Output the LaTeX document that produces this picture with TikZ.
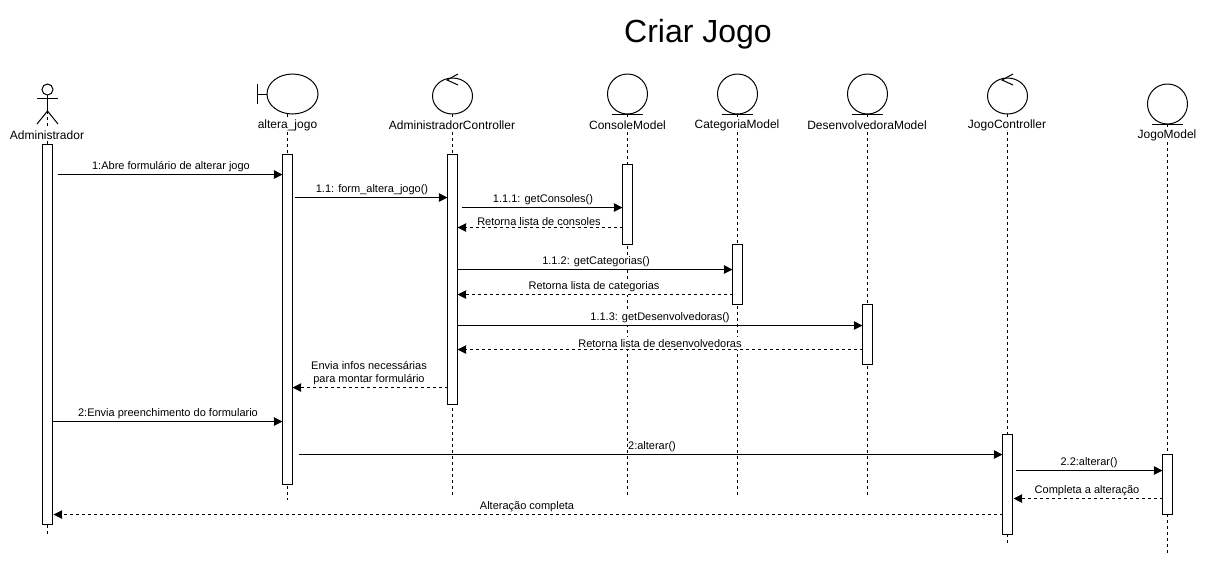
\documentclass[tikz,border=0pt]{standalone}
\usepackage{fontspec}
\setmainfont{Liberation Sans}
\usetikzlibrary{arrows.meta, shapes.geometric}

\begin{document}
\begin{tikzpicture}[x=0.75pt, y=-0.75pt, line width=0.75pt, >={Stealth[length=6.5pt, width=6.4pt, inset=0.3pt]},
        ico/.style={draw, circle, minimum size=30pt, inner sep=0pt, outer sep=0pt},
        ctl/.style={draw, ellipse, minimum width=30pt, minimum height=27pt, inner sep=0pt, outer sep=0pt},
        lbl/.style={fill=white, inner xsep=0pt, inner ysep=1pt, font=\fontsize{9}{10.5}\selectfont},
        bar/.style={draw, fill=white, anchor=north, minimum width=7.5pt, inner sep=0pt, outer sep=0pt},
        lifeline/.style={dash pattern=on 2.25pt off 2.25pt},
        msgtxt/.style={anchor=south, align=center, fill=white, inner xsep=0pt, inner ysep=1.7pt, outer sep=0pt, font=\fontsize{8.25}{9.75}\selectfont},
        msg/.style={->},
        ret/.style={->, dash pattern=on 2.25pt off 2.25pt}]
    \useasboundingbox (0, 0) rectangle (1206, 565);

    \node[font=\fontsize{24}{28}\selectfont] (title) at (698, 34) {Criar Jogo};

    % icons
    \node[draw, circle, minimum size=8.25pt, inner sep=0pt, outer sep=0pt] (head) at (47.5, 89.5) {};
    \node[draw, ellipse, minimum width=38.25pt, minimum height=30pt, inner sep=0pt, outer sep=0pt] (icoAlt) at (292.5, 94) {};
    \node[ctl] (icoAdm) at (452.5, 96) {};
    \node[ico] (icoCons) at (627.5, 94) {};
    \node[ico] (icoCat) at (737.5, 94) {};
    \node[ico] (icoDes) at (867.5, 94) {};
    \node[ctl] (icoJC) at (1007.5, 96) {};
    \node[ico] (icoJM) at (1167.5, 104) {};

    \coordinate (hip) at (47.5, 111);
    \draw (head.south) -- (hip);
    \draw (37, 98) -- (58, 98);
    \draw (37, 124) -- (hip) -- (58, 124);

    \draw (icoAlt.west) -- ++(-9.5, 0) ++(0, -10) -- ++(0, 20);
    \foreach \c in {icoAdm, icoJC}
        \draw (\c.north) ++(5.5, -4) -- ++(-11, 6) -- ++(11, 5);
    \foreach \e in {icoCons, icoCat, icoDes, icoJM}
        \draw (\e.south) ++(-15.5, 0) -- ++(31, 0);

    % lifelines and bars
    \foreach \name/\x/\top/\bot/\a/\b in {Adm/47.5/111/535/144.5/524.5, Alt/287.5/114/500/154.5/484.5,
            Ctl/452.5/114/495/154.5/404.5, Cons/627.5/114/495/164.5/244.5, Cat/737.5/114/495/244.5/304.5,
            Des/867.5/114/495/304.5/364.5, JC/1007.5/114/545/434.5/534.5, JM/1167.5/124/553/454.5/514.5} {
        \coordinate (top\name) at (\x, \top);
        \coordinate (end\name) at (\x, \bot);
        \draw[lifeline] (top\name) -- (end\name);
        \node[bar, minimum height={(\b-\a)*0.75pt}] (bar\name) at (\x, \a) {};
    }

    % names
    \foreach \name/\x/\y/\txt in {Adm/47/135/Administrador, Alt/287.5/125/altera\_jogo, Ctl/452/125/AdministradorController,
            Cons/627.5/125/ConsoleModel, Cat/737/125/CategoriaModel, Des/867/125/DesenvolvedoraModel,
            JC/1007/125/JogoController, JM/1167/135/JogoModel}
        \node[lbl] (name\name) at (\x, \y) {\txt};

    % messages
    \node[msgtxt] (m1) at (171, 174.5) {1:Abre formulário de alterar jogo};
    \node[msgtxt] (m2) at (372, 197.5) {1.1: form\_altera\_jogo()};
    \node[msgtxt] (m3) at (543, 207.5) {1.1.1: getConsoles()};
    \node[msgtxt] (m4) at (539, 227.5) {Retorna lista de consoles};
    \node[msgtxt] (m5) at (596, 269.5) {1.1.2: getCategorias()};
    \node[msgtxt] (m6) at (594, 294.5) {Retorna lista de categorias};
    \node[msgtxt] (m7) at (660, 325.5) {1.1.3: getDesenvolvedoras()};
    \node[msgtxt] (m8) at (660, 349.5) {Retorna lista de desenvolvedoras};
    \node[msgtxt] (m9) at (369, 387.5) {Envia infos necessárias\\para montar formulário};
    \node[msgtxt] (m10) at (168, 421.5) {2:Envia preenchimento do formulario};
    \node[msgtxt] (m11) at (652, 454.5) {2:alterar()};
    \node[msgtxt] (m12) at (1089, 470.5) {2.2:alterar()};
    \node[msgtxt] (m13) at (1087, 498.5) {Completa a alteração};
    \node[msgtxt] (m14) at (527, 514.5) {Alteração completa};

    \draw[msg] ([xshift=3.75pt]barAdm.east |- m1.south) -- (barAlt.west |- m1.south);
    \draw[msg] ([xshift=1.5pt]barAlt.east |- m2.south) -- (barCtl.west |- m2.south);
    \draw[msg] ([xshift=3pt]barCtl.east |- m3.south) -- (barCons.west |- m3.south);
    \draw[ret] (barCons.west |- m4.south) -- (barCtl.east |- m4.south);
    \draw[msg] (barCtl.east |- m5.south) -- (barCat.west |- m5.south);
    \draw[ret] (barCat.west |- m6.south) -- (barCtl.east |- m6.south);
    \draw[msg] (barCtl.east |- m7.south) -- (barDes.west |- m7.south);
    \draw[ret] (barDes.west |- m8.south) -- (barCtl.east |- m8.south);
    \draw[ret] (barCtl.west |- m9.south) -- (barAlt.east |- m9.south);
    \draw[msg] (barAdm.east |- m10.south) -- (barAlt.west |- m10.south);
    \draw[msg] ([xshift=4.5pt]barAlt.east |- m11.south) -- (barJC.west |- m11.south);
    \draw[msg] ([xshift=2.75pt]barJC.east |- m12.south) -- (barJM.west |- m12.south);
    \draw[ret] (barJM.west |- m13.south) -- ([xshift=0.75pt]barJC.east |- m13.south);
    \draw[ret] (barJC.west |- m14.south) -- ([xshift=0.75pt]barAdm.east |- m14.south);
\end{tikzpicture}
\end{document}
